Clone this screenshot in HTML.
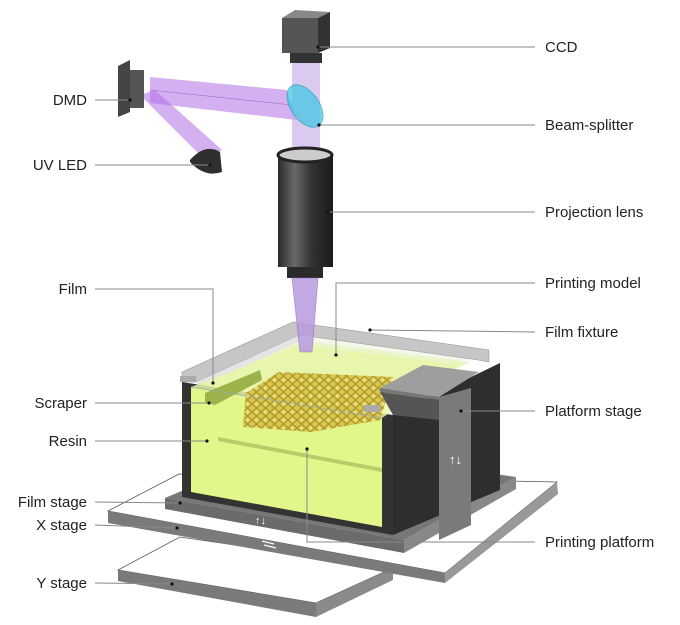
<!DOCTYPE html>
<html><head><meta charset="utf-8"><style>
html,body{margin:0;padding:0;background:#fff;width:680px;height:625px;overflow:hidden}
text{font-family:"Liberation Sans",Arial,sans-serif;font-size:15px;fill:#222}
</style></head><body>
<svg width="680" height="625" viewBox="0 0 680 625" xmlns="http://www.w3.org/2000/svg">
<defs>
<linearGradient id="cyl" x1="0" x2="1"><stop offset="0" stop-color="#2a2a2a"/><stop offset=".3" stop-color="#6a6a6a"/><stop offset=".6" stop-color="#333"/><stop offset="1" stop-color="#1a1a1a"/></linearGradient>
<pattern id="lat" width="9" height="8" patternUnits="userSpaceOnUse"><rect width="9" height="8" fill="#d8c34a"/><path d="M0 4 L4.5 0 L9 4 L4.5 8Z" fill="none" stroke="#a08a20" stroke-width="1"/><circle cx="4.5" cy="4" r="1.5" fill="#efe08a"/></pattern>
</defs>
<!-- Y stage -->
<polygon points="118,570 180,537 393,568 316,603" fill="#fff" stroke="#555" stroke-width="0.8"/>
<polygon points="118,570 316,603 316,617 118,581" fill="#7a7a7a"/>
<polygon points="316,603 393,568 393,580 316,617" fill="#8a8a8a"/>
<!-- X stage -->
<polygon points="108,511 179,474 557,482 445,573" fill="#fff" stroke="#555" stroke-width="0.8"/>
<polygon points="108,511 445,573 445,583 108,523" fill="#7a7a7a"/>
<polygon points="445,573 557,482 558,494 445,583" fill="#999"/>
<path d="M262 541 l12 3 M276 548 l-12 -3" stroke="#fff" stroke-width="1.2"/>
<path d="M345 605 l14 -8 M360 599 l-14 8" stroke="#fff" stroke-width="1.2"/>
<!-- film stage -->
<polygon points="165,498 404,540 516,477 290,445" fill="#777"/>
<polygon points="165,498 404,540 404,553 165,509" fill="#6b6b6b"/>
<polygon points="404,540 516,477 516,489 404,553" fill="#888"/>
<!-- tank back / fixture top -->
<polygon points="182,372 293,322 489,350 393,395" fill="#f4f8ec"/>
<polygon points="200,385 300,340 470,362 393,400" fill="#eaf5c8"/>
<polygon points="182,372 293,322 489,350 489,362 478,360 300,335 196,382 182,382" fill="#c6c6c6" stroke="#999" stroke-width="0.6"/>
<polygon points="196,382 300,335 300,341 200,387" fill="#e4e4e4"/>
<!-- side right face -->
<polygon points="393,415 500,363 500,490 393,535" fill="#2e2e2e"/>
<!-- front face -->
<polygon points="182,382 393,415 393,535 182,497" fill="#333"/>
<polygon points="191,387 382,418 382,527 191,492" fill="#e2f78a"/>
<polygon points="191,387 300,345 460,365 382,418" fill="#e7f6a8" opacity=".85"/>
<!-- scraper -->
<polygon points="205,393 260,370 262,380 215,405 205,402" fill="#9bb34a"/>
<!-- lattice -->
<polygon points="246,393 279,372 393,377 380,420 311,432 243,427" fill="url(#lat)" opacity=".95"/>
<polygon points="218,437 382,468 382,472 218,441" fill="#b8cc6a"/>
<line x1="191" y1="387" x2="382" y2="418" stroke="#9aa" stroke-width="0.8"/>
<!-- fixture edges -->
<rect x="180" y="376" width="16" height="6" fill="#aaa"/>
<rect x="364" y="405" width="16" height="7" fill="#aaa"/>
<!-- platform stage -->
<polygon points="380,388 439,397 479,372 423,365" fill="#9e9e9e"/>
<polygon points="380,388 439,397 439,400 380,392" fill="#777"/>
<polygon points="439,397 471,388 471,525 439,540" fill="#7a7a7a"/>
<polygon points="380,392 439,400 439,420 393,415" fill="#555"/>
<text x="449" y="464" style="font-size:13px;fill:#fff">↑↓</text>
<text x="255" y="524" style="font-size:11px;fill:#fff">↑↓</text>
<!-- upper optics -->
<polygon points="150,77 150,103 297,120 287,90" fill="#b070e6" opacity=".55"/>
<line x1="150" y1="90" x2="292" y2="105" stroke="#7a3fb0" stroke-width=".6" opacity=".6"/>
<polygon points="140,95 155,90 222,150 205,160" fill="#b070e6" opacity=".55"/>
<rect x="292" y="60" width="28" height="92" fill="#c2a6e6" opacity=".6"/>
<polygon points="118,66 130,60 130,112 118,117" fill="#444"/>
<rect x="130" y="70" width="14" height="38" fill="#555"/>
<path d="M190 160 Q205 143 220 152 L222 172 Q205 178 190 162Z" fill="#2f2f2f"/>
<ellipse cx="305" cy="106" rx="14" ry="24" transform="rotate(-35 305 106)" fill="#47c6e6" opacity=".75" stroke="#2aa" stroke-width="1"/>
<polygon points="282,18 318,18 330,12 295,10" fill="#888"/>
<polygon points="318,18 330,12 330,48 318,53" fill="#333"/>
<rect x="282" y="18" width="36" height="35" fill="#555"/>
<rect x="290" y="53" width="32" height="10" fill="#333"/>
<rect x="278" y="155" width="55" height="112" fill="url(#cyl)"/>
<ellipse cx="305" cy="155" rx="27" ry="7" fill="#ccc" stroke="#222" stroke-width="3"/>
<rect x="287" y="267" width="36" height="11" fill="#2a2a2a"/>
<polygon points="292,278 318,278 312,352 300,352" fill="#b89be0" opacity=".85" stroke="#8a6cc0" stroke-width=".6"/>
<!-- leaders -->
<g stroke="#888" stroke-width="1" fill="none">
<path d="M318 47 H535 M319 125 H535 M328 212 H535 M336 355 V283 H535 M370 330 L535 332 M461 411 H535 M307 449 V542 H535 M95 289 H213 V383 M95 100 H130 M95 165 H210 M95 403 H209 M95 441 H207 M95 502 L180 503 M95 525 L177 528 M95 583 L172 584"/>
</g>
<g fill="#111"><circle cx="318" cy="47" r="1.6"/><circle cx="319" cy="125" r="1.6"/><circle cx="328" cy="212" r="1.6"/><circle cx="336" cy="355" r="1.6"/><circle cx="370" cy="330" r="1.6"/><circle cx="461" cy="411" r="1.6"/><circle cx="307" cy="449" r="1.6"/><circle cx="213" cy="383" r="1.6"/><circle cx="130" cy="100" r="1.6"/><circle cx="210" cy="165" r="1.6"/><circle cx="209" cy="403" r="1.6"/><circle cx="207" cy="441" r="1.6"/><circle cx="180" cy="503" r="1.6"/><circle cx="177" cy="528" r="1.6"/><circle cx="172" cy="584" r="1.6"/></g>
<text x="545" y="52">CCD</text>
<text x="545" y="130">Beam-splitter</text>
<text x="545" y="217">Projection lens</text>
<text x="545" y="288">Printing model</text>
<text x="545" y="337">Film fixture</text>
<text x="545" y="416">Platform stage</text>
<text x="545" y="547">Printing platform</text>
<text x="87" y="105" text-anchor="end">DMD</text>
<text x="87" y="170" text-anchor="end">UV LED</text>
<text x="87" y="294" text-anchor="end">Film</text>
<text x="87" y="408" text-anchor="end">Scraper</text>
<text x="87" y="446" text-anchor="end">Resin</text>
<text x="87" y="507" text-anchor="end">Film stage</text>
<text x="87" y="530" text-anchor="end">X stage</text>
<text x="87" y="588" text-anchor="end">Y stage</text>
</svg>
</body></html>
